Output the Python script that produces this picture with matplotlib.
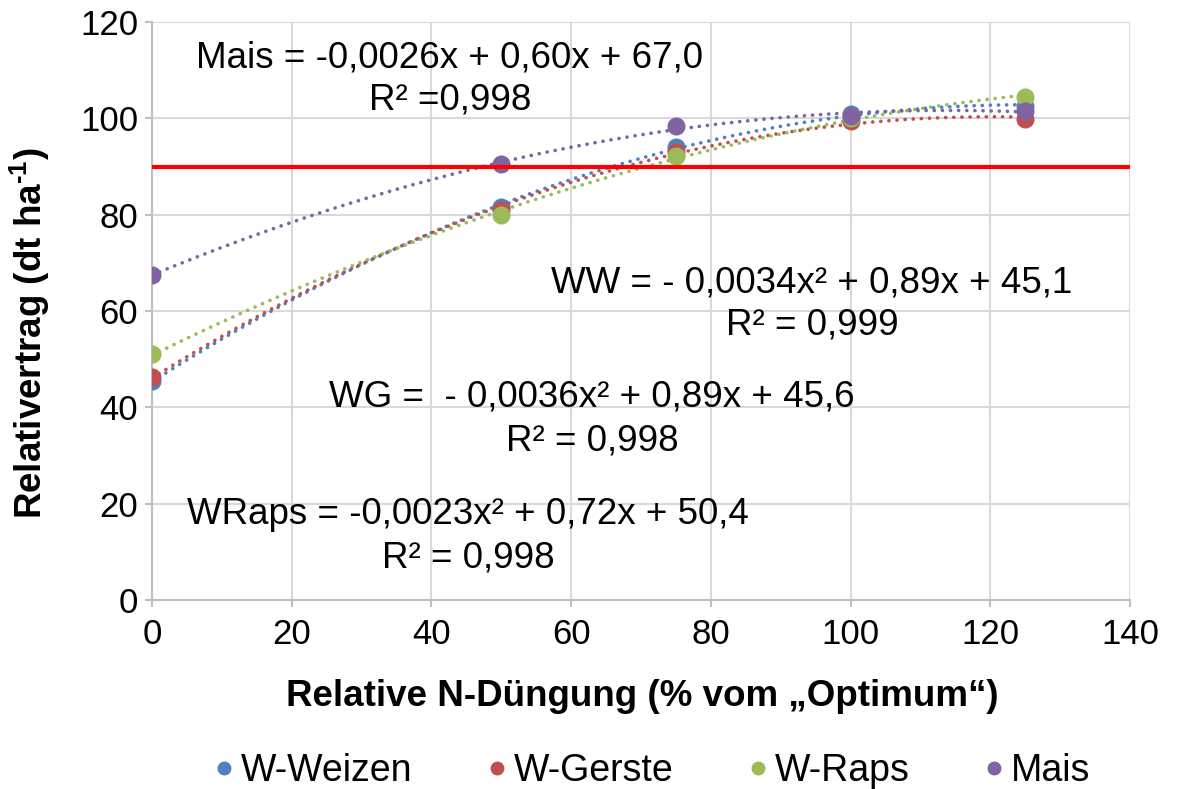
import numpy as np
import matplotlib
matplotlib.use("Agg")
import matplotlib.pyplot as plt
from matplotlib.lines import Line2D

plt.rcParams['font.family'] = ['Liberation Sans', 'DejaVu Sans']
plt.rcParams['mathtext.fontset'] = 'custom'
plt.rcParams['mathtext.rm'] = 'Liberation Sans'
plt.rcParams['mathtext.bf'] = 'Liberation Sans:bold'

# Data
n_levels = [0, 50, 75, 100, 125]
series_names = ["W-Weizen", "W-Gerste", "W-Raps", "Mais"]
weizen = [45.5, 81.5, 94.0, 101.0, 102.5]
gerste = [46.3, 81.0, 93.0, 99.5, 99.8]
raps = [51.0, 80.0, 92.2, 100.0, 104.5]
mais = [67.5, 90.5, 98.5, 100.5, 101.5]
threshold = 90
colors = ["#4F81BD", "#C0504D", "#9BBB59", "#8064A2"]

equations = [
    ("Mais = -0,0026x + 0,60x + 67,0", "R² =0,998", 450, 58, 100),
    ("WW = - 0,0034x² + 0,89x + 45,1", "R² = 0,999", 812, 283, 325),
    ("WG =  - 0,0036x² + 0,89x + 45,6", "R² = 0,998", 592, 397, 441),
    ("WRaps = -0,0023x² + 0,72x + 50,4", "R² = 0,998", 468, 515, 558),
]

W, H = 1182, 789
fig = plt.figure(figsize=(W / 100, H / 100), dpi=100)
ax = fig.add_axes([152 / W, 1 - 600 / H, (1130 - 152) / W, (600 - 22) / H])

x = np.array(n_levels, dtype=float)
xf = np.linspace(0, 125, 200)
for ys, c in zip([weizen, gerste, raps, mais], colors):
    ys = np.array(ys)
    coef = np.polyfit(x, ys, 2)
    ax.plot(xf, np.polyval(coef, xf), color=c, lw=2.6,
            linestyle=(0, (0.05, 2.2)), dash_capstyle='round', zorder=3)
for ys, c in zip([weizen, gerste, raps, mais], colors):
    ax.plot(x, ys, 'o', color=c, ms=13, zorder=4, markeredgewidth=0)

ax.axhline(threshold, color="#FF0000", lw=3, zorder=5)

ax.set_xlim(0, 140)
ax.set_ylim(0, 120)
ax.set_xticks(range(0, 141, 20))
ax.set_yticks(range(0, 121, 20))
ax.grid(True, color="#D9D9D9", lw=1.5, zorder=0)
ax.set_axisbelow(True)
for s in ['top', 'right']:
    ax.spines[s].set_visible(False)
for s in ['left', 'bottom']:
    ax.spines[s].set_color("#BFBFBF")
    ax.spines[s].set_linewidth(1.5)
ax.tick_params(axis='both', labelsize=25, color="#BFBFBF", width=1.5, length=5,
               labelcolor='black')
ax.tick_params(axis='x', pad=8)
ax.tick_params(axis='y', pad=5)

fig.text(642 / W, 1 - 697 / H, "Relative N-Düngung (% vom „Optimum“)", fontsize=26.5,
         fontweight='bold', ha='center', va='center')
fig.text(30 / W, 1 - 333 / H, "Relativertrag (dt ha$^{\\mathbf{\u20101}}$)", fontsize=26.5,
         fontweight='bold', ha='center', va='center', rotation=90)

for l1, l2, cx, y1, y2 in equations:
    fig.text(cx / W, 1 - y1 / H, l1, fontsize=26.5, ha='center', va='center')
    fig.text(cx / W, 1 - y2 / H, l2, fontsize=26.5, ha='center', va='center')

handles = [Line2D([], [], marker='o', ls='', color=c, ms=9) for c in colors]
fig.legend(handles, series_names, loc='center', bbox_to_anchor=(0.552, 1 - 771 / H),
           ncol=4, frameon=False, fontsize=27, handletextpad=0.2,
           columnspacing=2.0, handlelength=0.5)

fig.savefig("out.png", dpi=100)
